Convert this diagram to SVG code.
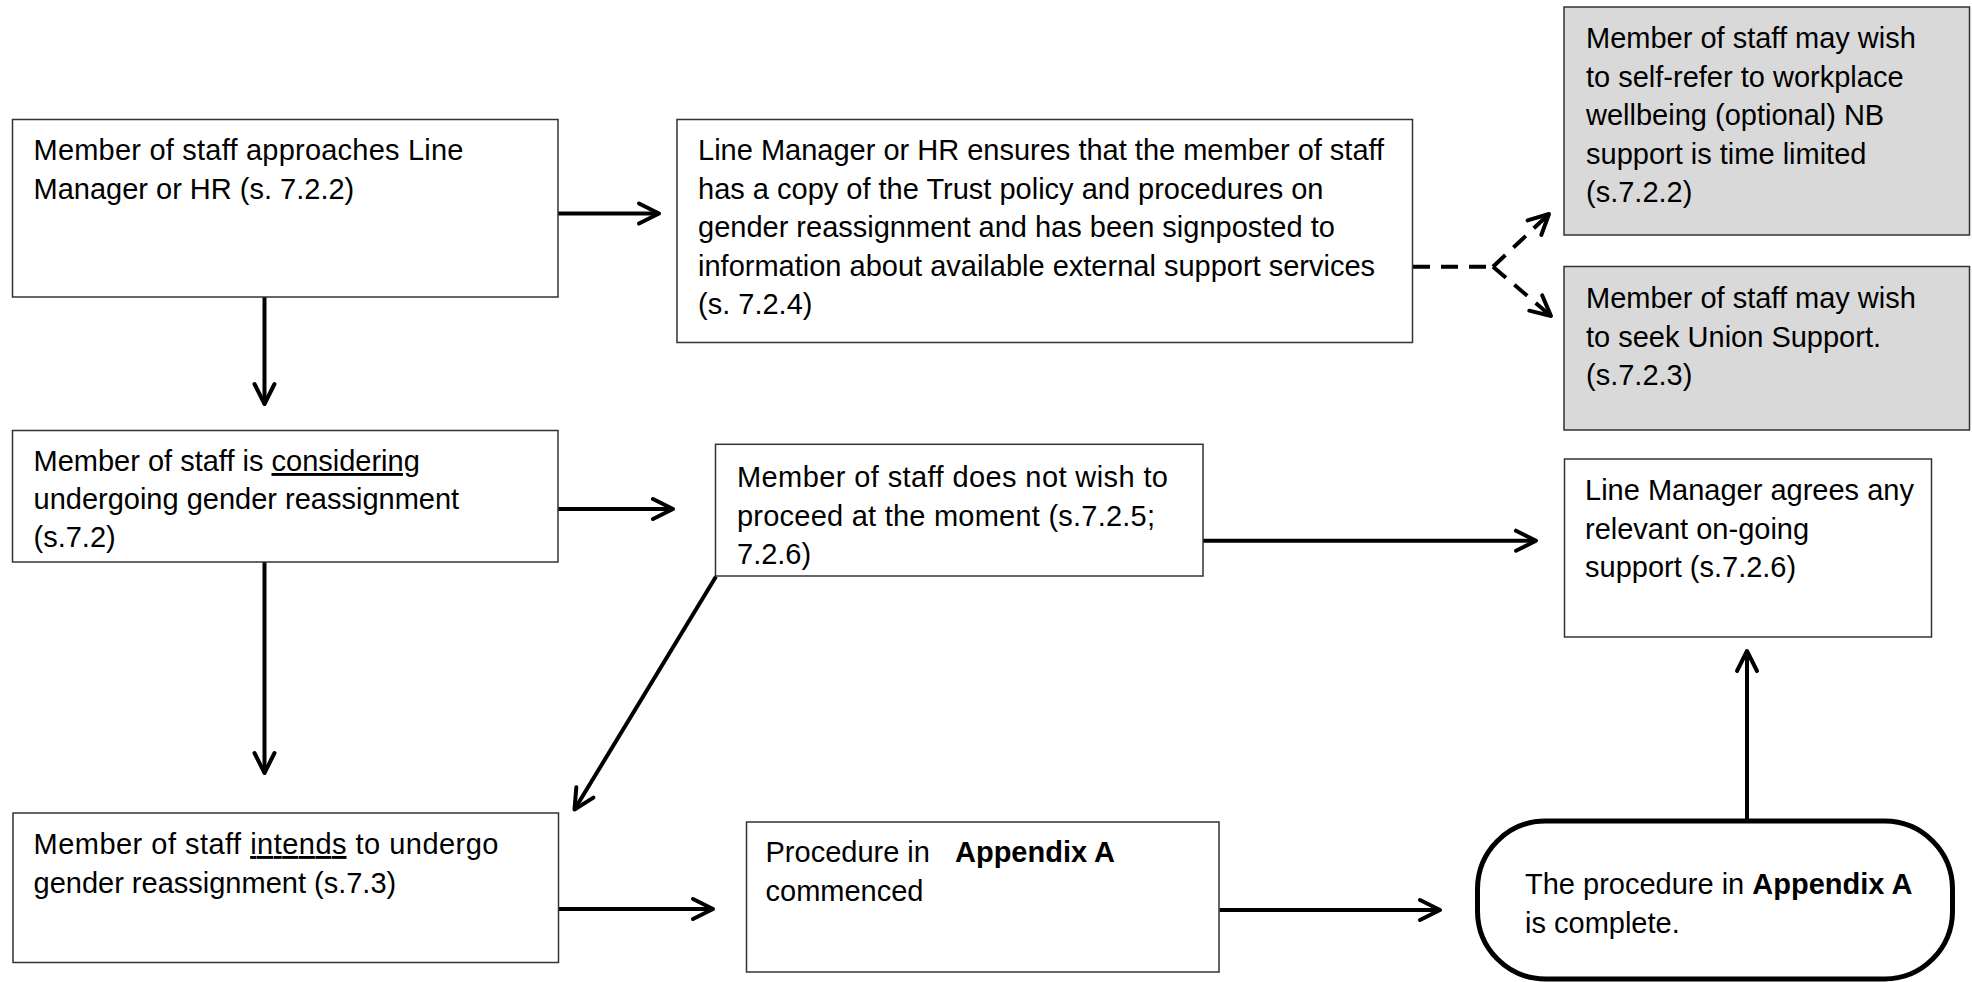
<svg xmlns="http://www.w3.org/2000/svg" width="1972" height="982" viewBox="0 0 1972 982">
<style>
  .box { fill: #ffffff; stroke: #333333; stroke-width: 1.5; }
  .gray { fill: #d9d9d9; stroke: #333333; stroke-width: 1.5; }
  .term { fill: #ffffff; stroke: #000000; stroke-width: 5; }
  text { font-family: "Liberation Sans", Arial, sans-serif; font-size: 29px; fill: #000000; }
  .b { font-weight: bold; }
  .u { text-decoration: underline; }
  .conn { stroke: #000000; stroke-width: 4; fill: none; }
  .dash { stroke-dasharray: 17 11; }
</style>
<defs>
  <marker id="arr" markerUnits="userSpaceOnUse" viewBox="-26 -15 30 30" markerWidth="30" markerHeight="30" refX="0" refY="0" orient="auto">
    <path d="M-20,-10 L0,0 L-20,10" fill="none" stroke="#000000" stroke-width="4" stroke-linecap="round" stroke-linejoin="round"/>
  </marker>
</defs>
<rect width="1972" height="982" fill="#ffffff"/>

<g id="connectors">
  <line class="conn" x1="558" y1="213.5" x2="659" y2="213.5" marker-end="url(#arr)"/>
  <line class="conn" x1="264.5" y1="297" x2="264.5" y2="404" marker-end="url(#arr)"/>
  <line class="conn dash" x1="1413" y1="266.7" x2="1493" y2="266.7"/>
  <line class="conn dash" x1="1493" y1="266.7" x2="1549" y2="214" marker-end="url(#arr)"/>
  <line class="conn dash" x1="1493" y1="266.7" x2="1551" y2="316" marker-end="url(#arr)"/>
  <line class="conn" x1="558" y1="509" x2="673" y2="509" marker-end="url(#arr)"/>
  <line class="conn" x1="264.5" y1="562" x2="264.5" y2="773" marker-end="url(#arr)"/>
  <line class="conn" x1="1203" y1="540.7" x2="1536" y2="540.7" marker-end="url(#arr)"/>
  <line class="conn" x1="716" y1="576.5" x2="574.5" y2="809.5" marker-end="url(#arr)"/>
  <line class="conn" x1="558" y1="909" x2="713" y2="909" marker-end="url(#arr)"/>
  <line class="conn" x1="1219.5" y1="910" x2="1440" y2="910" marker-end="url(#arr)"/>
  <line class="conn" x1="1747" y1="821" x2="1747" y2="651" marker-end="url(#arr)"/>
</g>

<g id="n1">
  <rect class="box" x="12.5" y="119.5" width="545.5" height="177.5"/>
  <text x="33.5" y="160" textLength="430" lengthAdjust="spacing">Member of staff approaches Line</text>
  <text x="33.5" y="199">Manager or HR (s. 7.2.2)</text>
</g>

<g id="n2">
  <rect class="box" x="677" y="119.5" width="735.5" height="223"/>
  <text x="698" y="160">Line Manager or HR ensures that the member of staff</text>
  <text x="698" y="198.5">has a copy of the Trust policy and procedures on</text>
  <text x="698" y="237">gender reassignment and has been signposted to</text>
  <text x="698" y="275.5">information about available external support services</text>
  <text x="698" y="314">(s. 7.2.4)</text>
</g>

<g id="n3">
  <rect class="gray" x="1564" y="7" width="405.5" height="228"/>
  <text x="1586" y="48">Member of staff may wish</text>
  <text x="1586" y="86.5">to self-refer to workplace</text>
  <text x="1586" y="125">wellbeing (optional) NB</text>
  <text x="1586" y="163.5">support is time limited</text>
  <text x="1586" y="202">(s.7.2.2)</text>
</g>

<g id="n4">
  <rect class="gray" x="1564" y="266.5" width="405.5" height="163.5"/>
  <text x="1586" y="308">Member of staff may wish</text>
  <text x="1586" y="346.5">to seek Union Support.</text>
  <text x="1586" y="385">(s.7.2.3)</text>
</g>

<g id="n5">
  <rect class="box" x="12.5" y="430.5" width="545.5" height="131.5"/>
  <text x="33.5" y="471">Member of staff is <tspan class="u">considering</tspan></text>
  <text x="33.5" y="509">undergoing gender reassignment</text>
  <text x="33.5" y="547">(s.7.2)</text>
</g>

<g id="n6">
  <rect class="box" x="715.5" y="444.3" width="487.5" height="131.7"/>
  <text x="737" y="487" textLength="431" lengthAdjust="spacing">Member of staff does not wish to</text>
  <text x="737" y="525.5" textLength="418" lengthAdjust="spacing">proceed at the moment (s.7.2.5;</text>
  <text x="737" y="564">7.2.6)</text>
</g>

<g id="n7">
  <rect class="box" x="1564.5" y="459" width="367" height="178"/>
  <text x="1585" y="500">Line Manager agrees any</text>
  <text x="1585" y="538.5">relevant on-going</text>
  <text x="1585" y="577">support (s.7.2.6)</text>
</g>

<g id="n8">
  <rect class="box" x="13" y="813" width="545.5" height="149.5"/>
  <text x="33.5" y="854" textLength="465" lengthAdjust="spacing">Member of staff <tspan class="u">intends</tspan> to undergo</text>
  <text x="33.5" y="892.5">gender reassignment (s.7.3)</text>
</g>

<g id="n9">
  <rect class="box" x="746.5" y="822" width="472.5" height="150"/>
  <text x="765.5" y="862">Procedure in</text>
  <text class="b" x="955" y="862">Appendix A</text>
  <text x="765.5" y="900.5">commenced</text>
</g>

<g id="n10">
  <rect class="term" x="1477.5" y="821" width="475" height="158" rx="68" ry="68"/>
  <text x="1525" y="894">The procedure in <tspan class="b">Appendix A</tspan></text>
  <text x="1525" y="932.5">is complete.</text>
</g>
</svg>
